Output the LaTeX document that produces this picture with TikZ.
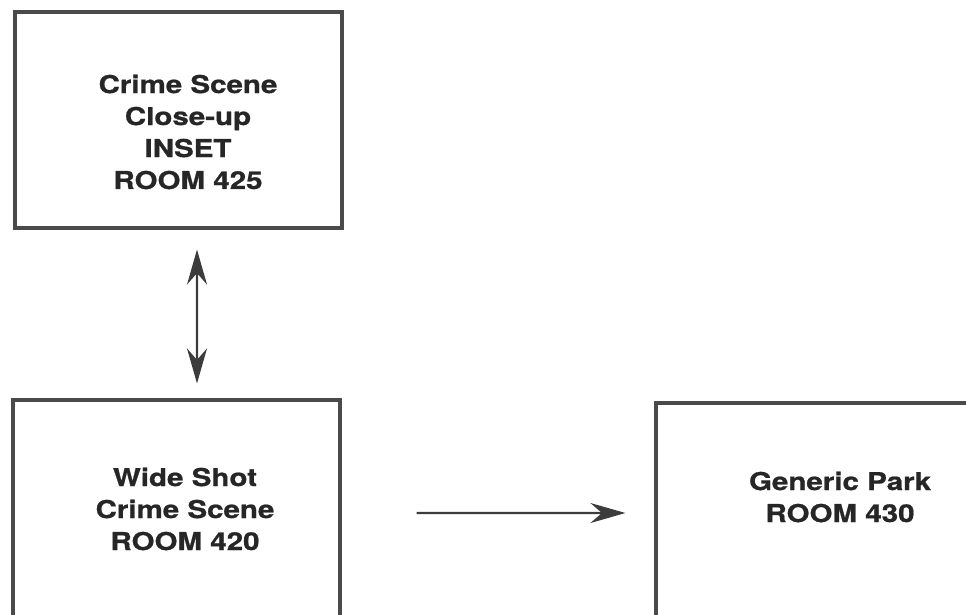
\documentclass[tikz,border=0pt]{standalone}
\usepackage{fontspec}
\setsansfont[FakeStretch=1.2,BoldFeatures={FakeBold=0.8}]{TeX Gyre Heros}
\usetikzlibrary{arrows.meta}

\definecolor{ink}{HTML}{262626}
\definecolor{frame}{HTML}{4A4A4A}

\begin{document}
\begin{tikzpicture}[
  x=0.2mm,
  y=-0.2mm,
  font=\sffamily\bfseries\fontsize{14}{18.2}\selectfont,
  roombox/.style={draw=frame,line width=1.8pt,fill=white,inner sep=0pt},
  roomtext/.style={text=ink,align=center,inner sep=0pt},
  link/.style={draw=ink!90,line width=1.2pt,
    -{Stealth[length=7mm,width=4mm,inset=2.3mm]}}
]
\useasboundingbox (0,0) rectangle (966,614);
\clip (0,0) rectangle (966,614);

% rooms
\node[roombox,minimum width=327*0.2mm,minimum height=216*0.2mm]
  (closeup) at (178.5,120) {};
\node[roomtext] (closeuptext) at (188,132)
  {Crime Scene\\Close-up\\INSET\\ROOM 425};

\node[roombox,minimum width=327*0.2mm,minimum height=230*0.2mm]
  (wideshot) at (176.5,515) {};
\node[roomtext] (wideshottext) at (185,509)
  {Wide Shot\\Crime Scene\\ROOM 420};

\node[roombox,minimum width=368*0.2mm,minimum height=230*0.2mm]
  (park) at (840,518) {};
\node[roomtext] (parktext) at (840,497)
  {Generic Park\\ROOM 430};

% moves between rooms
\draw[link,{Stealth[length=7mm,width=4mm,inset=2.3mm]}-{Stealth[length=7mm,width=4mm,inset=2.3mm]},
  shorten <=4mm,shorten >=3mm]
  ([xshift=3.7mm]closeup.south) -- ([xshift=4.1mm]wideshot.north);
\draw[link,shorten <=15mm,shorten >=5.8mm]
  ([yshift=0.4mm]wideshot.east) -- ([yshift=1mm]park.west);
\end{tikzpicture}
\end{document}
